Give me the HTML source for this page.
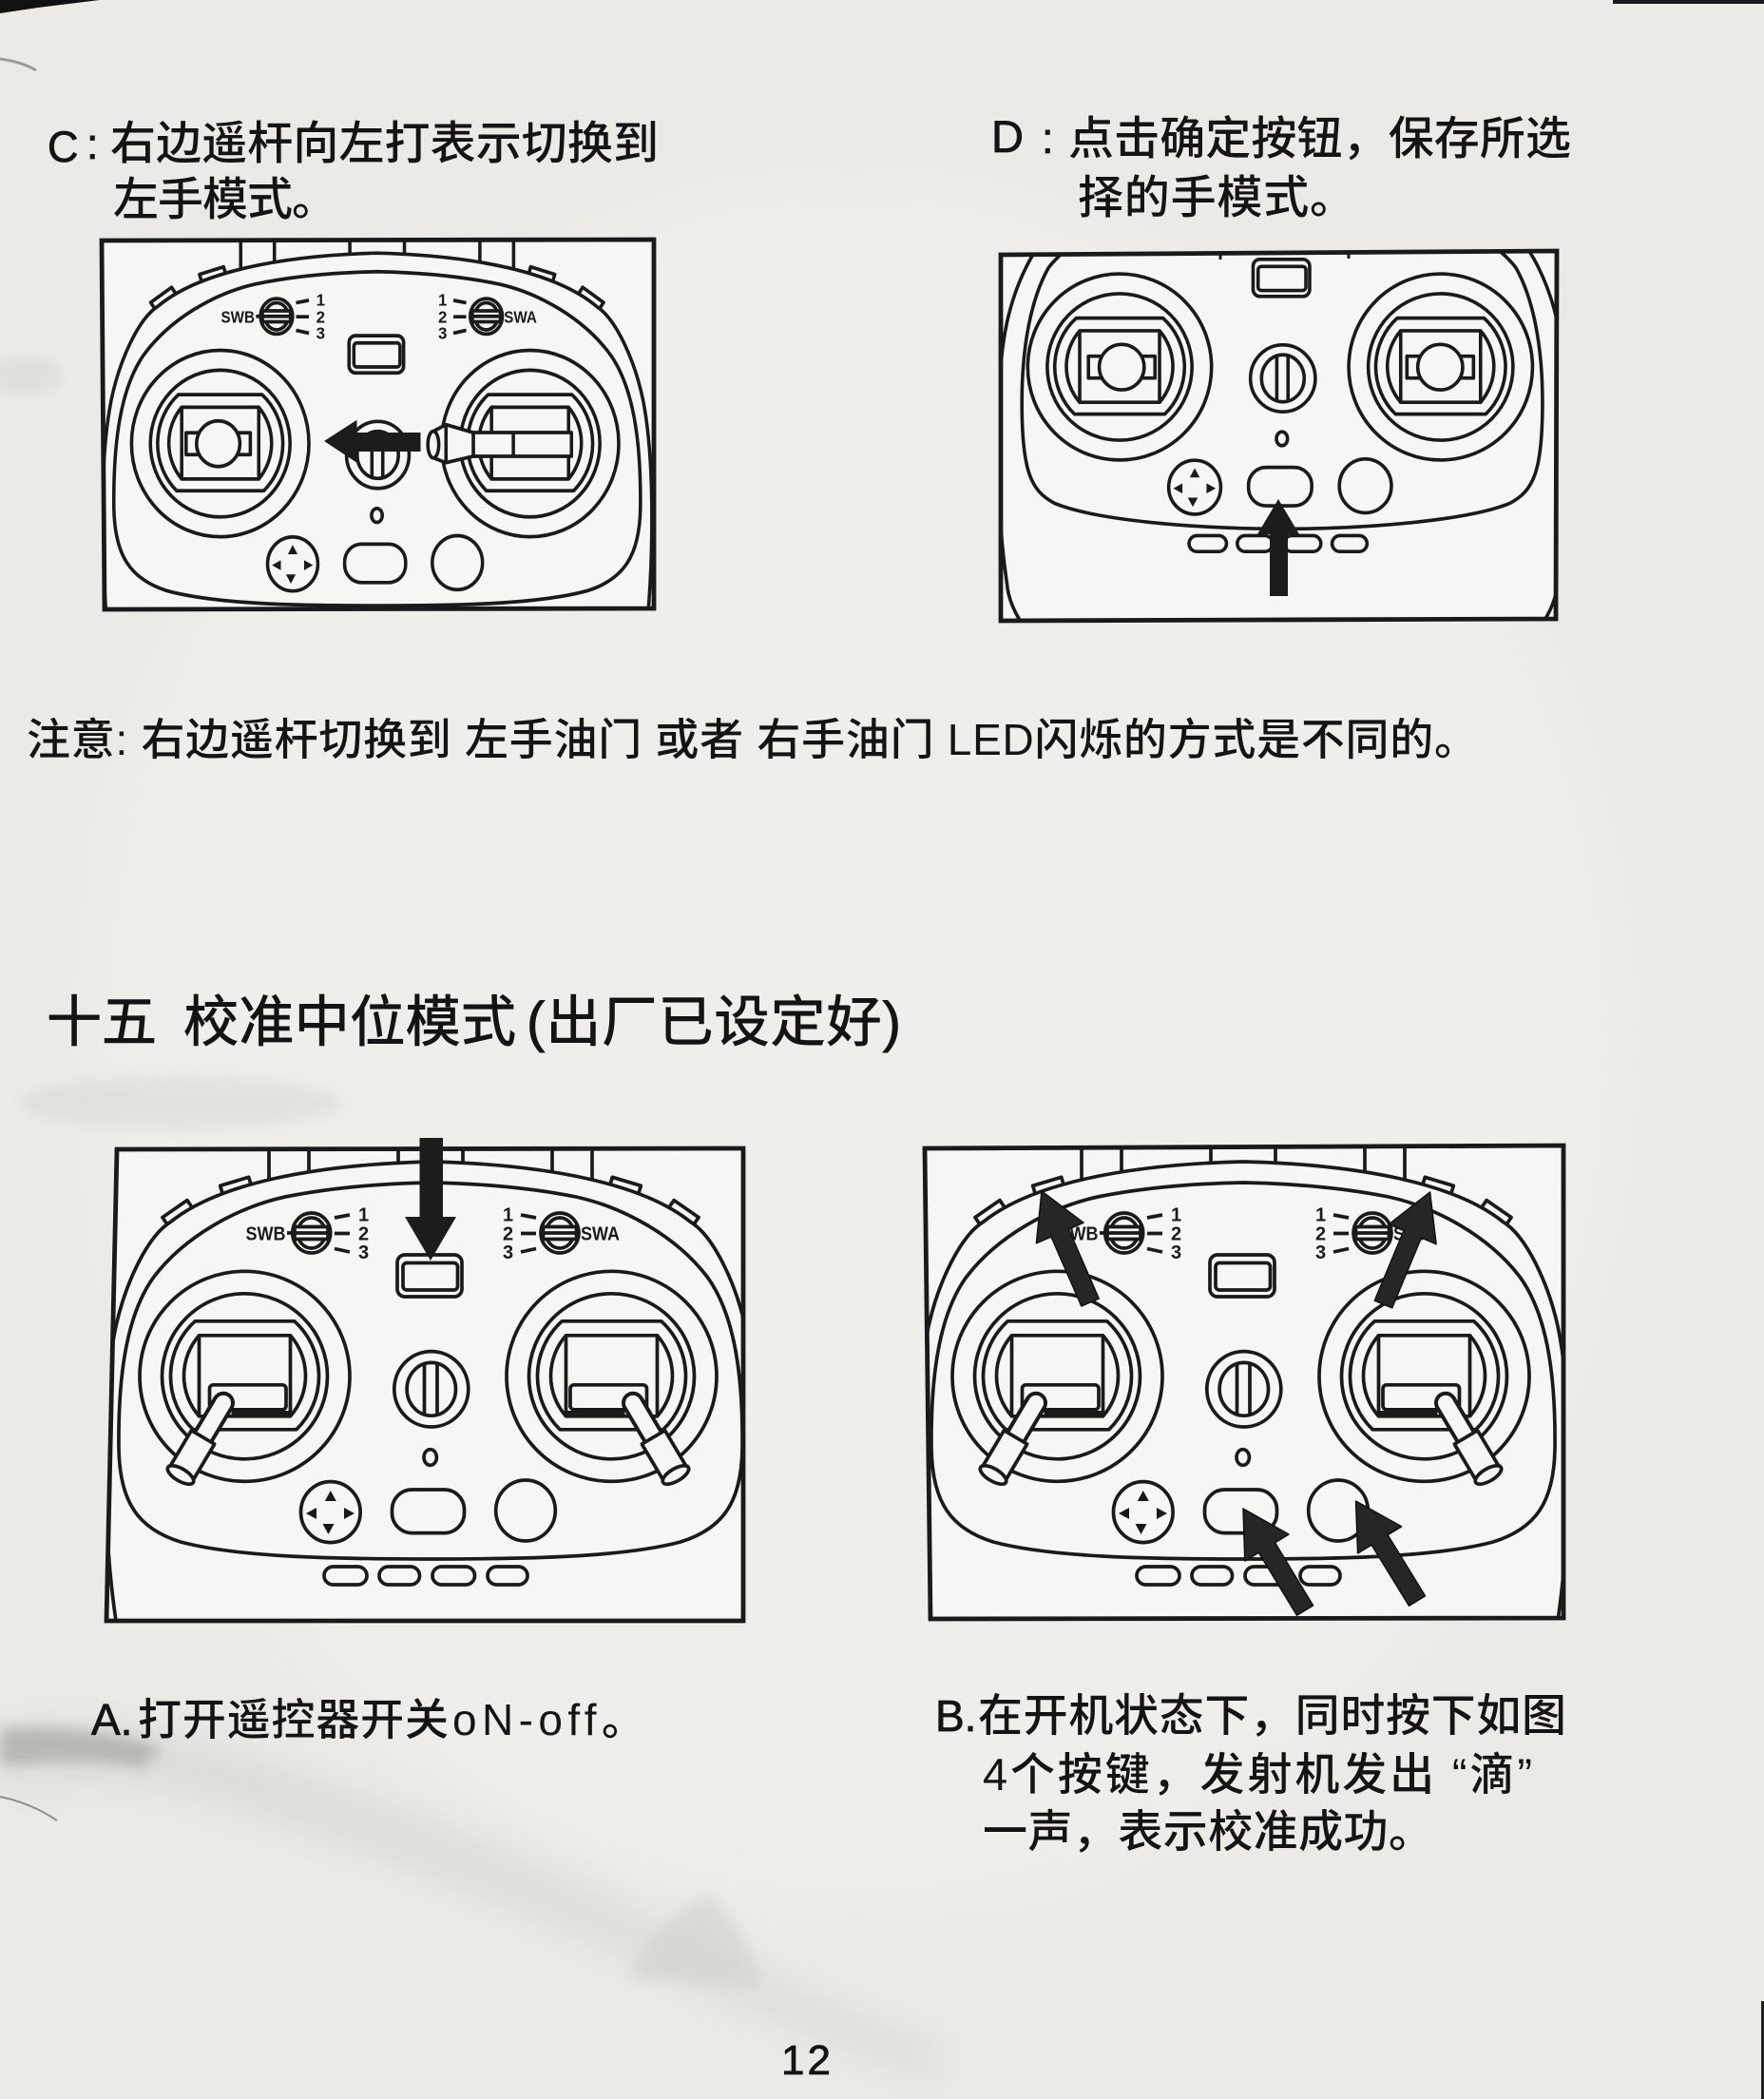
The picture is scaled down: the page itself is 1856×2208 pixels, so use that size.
<!DOCTYPE html>
<html>
<head>
<meta charset="utf-8">
<style>
  html,body{margin:0;padding:0;background:#ecebe7;}
  svg{display:block;}
</style>
</head>
<body>
<svg xmlns="http://www.w3.org/2000/svg" width="1856" height="2208" viewBox="0 0 1856 2208">
<defs>
  <filter id="bl" x="-50%" y="-50%" width="200%" height="200%"><feGaussianBlur stdDeviation="22"/></filter>
  <filter id="bl2" x="-50%" y="-50%" width="200%" height="200%"><feGaussianBlur stdDeviation="7"/></filter>

  <g id="shell">
    <path d="M50,578 C38,560 24,540 22,515 C8,420 6,280 22,205 C32,160 55,110 80,95 C130,55 230,35 353,32 C476,35 576,55 626,95 C651,110 674,160 684,205 C700,280 698,420 684,515 C682,540 668,560 656,578"/>
    <path d="M76,98 L70.9,90.6 L96.9,72.6 L102,80"/>
    <path d="M134,65 L131.7,57.3 L161.7,48.3 L164,56"/>
    <path d="M630,98 L635.1,90.6 L609.1,72.6 L604,80"/>
    <path d="M572,65 L574.3,57.3 L544.3,48.3 L542,56"/>
    <path d="M183,10 V51 M225,10 V43 M319,10 V34 M387,10 V34 M481,10 V43 M523,10 V51"/>
  </g>

  <path id="faceA" d="M353,54 C300,55 245,60 200,69 C150,80 95,110 62,153 C35,190 24,250 25,334 C26,390 45,418 90,432 C150,448 250,450 353,450 C456,450 556,448 616,432 C661,418 680,390 681,334 C682,250 671,190 644,153 C611,110 556,80 506,69 C461,60 406,55 353,54 Z"/>
  <path id="faceD" d="M353,54 C300,55 245,60 200,69 C150,80 95,110 72,140 C52,175 40,230 40,300 C40,380 50,405 80,420 C130,440 250,450 353,450 C456,450 576,440 626,420 C656,405 666,380 666,300 C666,230 654,175 634,140 C611,110 556,80 506,69 C461,60 406,55 353,54 Z"/>

  <g id="sw">
    <ellipse cx="227.7" cy="107" rx="20" ry="21" fill="#f6f6f4"/>
    <ellipse cx="227.7" cy="107" rx="14.5" ry="16"/>
    <rect x="210" y="100.5" width="35" height="13" fill="#f6f6f4"/>
    <line x1="210" y1="107" x2="245" y2="107"/>
    <line x1="202" y1="107" x2="208" y2="107"/>
    <path d="M252,91 L268,88 M252,107.5 L268,107.5 M252,123.5 L268,127"/>
    <ellipse cx="489" cy="107" rx="20" ry="21" fill="#f6f6f4"/>
    <ellipse cx="489" cy="107" rx="14.5" ry="16"/>
    <rect x="471.5" y="100.5" width="35" height="13" fill="#f6f6f4"/>
    <line x1="471.5" y1="107" x2="506.5" y2="107"/>
    <path d="M448,88 L464,91 M448,107.5 L464,107.5 M448,127 L464,123.5"/>
    <g stroke="none" fill="#1a1a1a" font-family="'Liberation Sans',sans-serif" font-weight="bold" font-size="20">
      <text x="158.5" y="114.5" textLength="42" lengthAdjust="spacingAndGlyphs">SWB</text>
      <text x="277" y="94.5">1</text>
      <text x="277" y="114.5">2</text>
      <text x="277" y="134">3</text>
      <text x="511" y="114.5" textLength="41" lengthAdjust="spacingAndGlyphs">SWA</text>
      <text x="429" y="94.5">1</text>
      <text x="429" y="114.5">2</text>
      <text x="429" y="134">3</text>
    </g>
  </g>

  <g id="panel">
    <rect x="318" y="130" width="68" height="44" rx="8" fill="#f6f6f4"/>
    <rect x="324" y="138.5" width="57.5" height="28.5" rx="4"/>
    <ellipse cx="353.8" cy="271.3" rx="39" ry="39.7" fill="#f6f6f4"/>
    <ellipse cx="353.8" cy="271.3" rx="25.7" ry="27.9"/>
    <path d="M346.5,245 V297.5 M360,245 V297.5"/>
    <ellipse cx="352.7" cy="343" rx="6.7" ry="8.3"/>
    <ellipse cx="247.8" cy="400.6" rx="31.3" ry="32" fill="#f6f6f4"/>
    <g stroke="none" fill="#1a1a1a">
      <polygon points="247.8,378 241.8,389 253.8,389"/>
      <polygon points="245.5,424 239.5,413 251.5,413"/>
      <polygon points="222,402 233,396 233,408"/>
      <polygon points="273,402 262,396 262,408"/>
    </g>
    <rect x="312.5" y="377" width="76" height="45.6" rx="21" fill="#f6f6f4"/>
    <ellipse cx="453" cy="399" rx="31.3" ry="32" fill="#f6f6f4"/>
    <rect x="241" y="458" width="45" height="19" rx="9.5"/>
    <rect x="299" y="458" width="42.5" height="19" rx="9.5"/>
    <rect x="355" y="458" width="44.5" height="19" rx="9.5"/>
    <rect x="413" y="458" width="42" height="19" rx="9.5"/>
  </g>

  <g id="gim">
    <circle r="110.5" fill="#f6f6f4"/>
    <circle r="87"/>
    <path d="M-52.2,-58 L52.2,-58 A78 78 0 0 1 54.3,56 L-54.3,56 A78 78 0 0 1 -52.2,-58 Z"/>
    <path d="M-48,-43 A64.4 64.4 0 0 0 -48,42 M48,-43 A64.4 64.4 0 0 1 48,42"/>
    <rect x="-48" y="-43" width="96" height="85"/>
  </g>

  <g id="tilt">
    <rect x="-37" y="9" width="80.5" height="26" rx="4" fill="#f6f6f4"/>
    <line x1="-14" y1="38.5" x2="47" y2="38.5" stroke-width="4.5"/>
    <line x1="-22.5" y1="28" x2="-43.96" y2="64.12" stroke-width="24" stroke-linecap="round"/>
    <line x1="-22.5" y1="28" x2="-43.96" y2="64.12" stroke="#f6f6f4" stroke-width="16" stroke-linecap="round"/>
    <line x1="-43.96" y1="64.12" x2="-67.47" y2="103.68" stroke-width="32"/>
    <line x1="-43.96" y1="64.12" x2="-67.47" y2="103.68" stroke="#f6f6f4" stroke-width="24.5"/>
    <line x1="-30.63" y1="72.04" x2="-57.29" y2="56.2"/>
    <ellipse cx="-67.47" cy="103.68" rx="15.5" ry="6.5" transform="rotate(30.7 -67.47 103.68)" fill="#f6f6f4"/>
  </g>

  <g id="topv">
    <rect x="-40" y="-13" width="80" height="26" fill="#f6f6f4"/>
    <circle r="27" fill="#f6f6f4"/>
  </g>

  <g id="push">
    <rect x="-70.7" y="-13" width="122.3" height="28.1" fill="#f6f6f4"/>
    <line x1="-20.8" y1="-13" x2="-20.8" y2="15.1"/>
    <path d="M-120.5,-14.5 L-104.7,-22.4 L-70.7,-13 L-70.7,15.1 L-104.7,22.7 L-120.5,17 Z" fill="#f6f6f4"/>
    <line x1="-104.7" y1="-22.4" x2="-104.7" y2="22.7"/>
    <ellipse cx="-120.5" cy="1.25" rx="6.8" ry="15.8" fill="#f6f6f4"/>
  </g>

  <clipPath id="cC"><polygon points="107,253 688,252 688,640 110,641"/></clipPath>
  <clipPath id="cD"><polygon points="1053,268 1638,264 1637,651 1053,653"/></clipPath>
  <clipPath id="cA"><polygon points="123,1209 782,1208 782,1705 112,1705"/></clipPath>
  <clipPath id="cB"><polygon points="973,1208 1645,1205 1645,1702 979,1703"/></clipPath>
</defs>

<rect x="0" y="0" width="1856" height="2208" fill="#ebeae6"/>
<ellipse cx="900" cy="1100" rx="800" ry="900" fill="#f0efeb" filter="url(#bl)" opacity="0.8"/>
<ellipse cx="25" cy="395" rx="40" ry="20" fill="#d2d0cc" opacity="0.45" filter="url(#bl2)"/>
<ellipse cx="190" cy="1160" rx="170" ry="28" fill="#d6d5d1" opacity="0.5" filter="url(#bl2)"/>
<path d="M0,1818 C80,1812 160,1820 240,1845 C400,1895 560,1960 720,2040 C820,2090 920,2130 1000,2160 L980,2185 C880,2150 760,2100 650,2050 C500,1985 340,1925 200,1885 C120,1865 60,1870 0,1880 Z" fill="#cac8c4" opacity="0.5" filter="url(#bl)"/>
<path d="M0,1818 C60,1814 120,1822 170,1838 L150,1860 C100,1850 50,1852 0,1858 Z" fill="#a9a7a3" opacity="0.7" filter="url(#bl2)"/>
<path d="M660,2080 C690,2030 720,2000 745,1995 C770,2010 790,2050 800,2090 Z" fill="#d0cecb" opacity="0.55" filter="url(#bl2)"/>
<path d="M0,1890 C25,1895 45,1905 60,1915" stroke="#555" stroke-width="2" fill="none" opacity="0.6"/>
<polygon points="0,0 105,0 40,8 0,14" fill="#111"/>
<rect x="1697" y="0" width="159" height="4" fill="#1a1a1a"/>
<rect x="1853" y="2105" width="3" height="103" fill="#222"/>
<path d="M0,62 C15,64 28,68 38,74" stroke="#666" stroke-width="3" fill="none" opacity="0.6"/>

<g fill="#141414" font-weight="500" font-family="'Liberation Sans','Noto Sans CJK SC',sans-serif">
  <g stroke="#141414" stroke-width="0.8">
    <text x="50" y="170" font-size="45" font-family="'Liberation Sans',sans-serif">C</text>
    <text x="91" y="167" font-size="45" font-family="'Liberation Sans',sans-serif">:</text>
    <text x="1043" y="160" font-size="47" font-family="'Liberation Sans',sans-serif">D</text>
    <text x="1096" y="161" font-size="45" font-family="'Liberation Sans',sans-serif">:</text>
    <text x="96" y="1825" font-size="46" font-family="'Liberation Sans',sans-serif">A.</text>
    <text x="984" y="1821" font-size="46" font-family="'Liberation Sans',sans-serif">B.</text>
    <text x="822" y="2182" font-size="44" textLength="52" font-family="'Liberation Sans',sans-serif">12</text>
  </g>
  <text x="116" y="167" font-size="48" textLength="577">右边遥杆向左打表示切换到</text>
  <text x="119" y="226" font-size="48" textLength="236">左手模式。</text>

  <text x="1124" y="162" font-size="48" textLength="529">点击确定按钮，保存所选</text>
  <text x="1134" y="224" font-size="48" textLength="292">择的手模式。</text>

  <text x="28" y="794" font-size="46" textLength="1527">注意: 右边遥杆切换到 左手油门 或者 右手油门 LED闪烁的方式是不同的。</text>

  <g font-weight="normal" stroke="#141414" stroke-width="0.9">
    <text x="49" y="1095" font-size="58" textLength="116">十五</text>
    <text x="193" y="1095" font-size="58" textLength="350">校准中位模式</text>
    <text x="554" y="1095" font-size="58" textLength="394">(出厂已设定好)</text>
  </g>

  <text x="145" y="1825" font-size="46" textLength="327">打开遥控器开关</text>
  <text x="476" y="1825" font-size="46" textLength="203">oN-off。</text>

  <text x="1029" y="1821" font-size="47" textLength="619">在开机状态下，同时按下如图</text>
  <text x="1034" y="1883" font-size="47" textLength="578">4个按键，发射机发出 “滴”</text>
  <text x="1034" y="1943" font-size="47" textLength="474">一声，表示校准成功。</text>
</g>

<g clip-path="url(#cC)">
  <polygon points="107,253 688,252 688,640 110,641" fill="#f6f6f4"/>
  <g transform="translate(98.7,237.8) scale(0.8445,0.8874)" stroke="#1a1a1a" stroke-width="4.2" fill="none" stroke-linejoin="round">
    <use href="#shell"/>
    <use href="#faceA"/>
    <use href="#sw"/>
    <use href="#panel"/>
    <use href="#gim" transform="translate(157.5,257.8)"/>
    <use href="#gim" transform="translate(543.5,257.8)"/>
    <use href="#topv" transform="translate(155,258)"/>
    <use href="#push" transform="translate(543.5,257.8)"/>
  </g>
</g>
<polygon points="107,253 688,252 688,640 110,641" fill="none" stroke="#1a1a1a" stroke-width="4.8"/>
<polygon points="341,464 375.5,441.7 375.5,455 442.5,455 442.5,475 375.5,475 375.5,486.7" fill="#1c1c1c"/>

<g clip-path="url(#cD)">
  <polygon points="1053,268 1638,264 1637,651 1053,653" fill="#f6f6f4"/>
  <g transform="translate(1040.2,157.6) scale(0.875,0.886)" stroke="#1a1a1a" stroke-width="4.1" fill="none" stroke-linejoin="round">
    <use href="#shell"/>
    <use href="#faceD"/>
    <use href="#panel"/>
    <use href="#gim" transform="translate(157.5,257.8)"/>
    <use href="#gim" transform="translate(543.5,257.8)"/>
    <use href="#topv" transform="translate(160,258)"/>
    <use href="#topv" transform="translate(543,258)"/>
  </g>
  <path d="M1284,266 V273 M1419,266 V272" stroke="#1a1a1a" stroke-width="3"/>
</g>
<polygon points="1053,268 1638,264 1637,651 1053,653" fill="none" stroke="#1a1a1a" stroke-width="4.8"/>
<polygon points="1345,525 1367,562 1355,562 1355,627 1336,627 1336,562 1323,562" fill="#1c1c1c"/>

<g clip-path="url(#cA)">
  <polygon points="123,1209 782,1208 782,1705 112,1705" fill="#f6f6f4"/>
  <g transform="translate(100,1190)" stroke="#1a1a1a" stroke-width="3.7" fill="none" stroke-linejoin="round">
    <use href="#shell"/>
    <use href="#faceA"/>
    <use href="#sw"/>
    <use href="#panel"/>
    <use href="#gim" transform="translate(157.5,257.8)"/>
    <use href="#gim" transform="translate(543.5,257.8)"/>
    <use href="#tilt" transform="translate(157.5,257.8)"/>
    <use href="#tilt" transform="translate(543.5,257.8) scale(-1,1)"/>
  </g>
</g>
<polygon points="123,1209 782,1208 782,1705 112,1705" fill="none" stroke="#1a1a1a" stroke-width="4.8"/>
<polygon points="441.5,1197 466,1197 466,1280 480,1280 453,1326 426,1280 441.5,1280" fill="#1c1c1c"/>

<g clip-path="url(#cB)">
  <polygon points="973,1208 1645,1205 1645,1702 979,1703" fill="#f6f6f4"/>
  <g transform="translate(955,1190)" stroke="#1a1a1a" stroke-width="3.7" fill="none" stroke-linejoin="round">
    <use href="#shell"/>
    <use href="#faceA"/>
    <use href="#sw"/>
    <use href="#panel"/>
    <use href="#gim" transform="translate(157.5,257.8)"/>
    <use href="#gim" transform="translate(543.5,257.8)"/>
    <use href="#tilt" transform="translate(157.5,257.8)"/>
    <use href="#tilt" transform="translate(543.5,257.8) scale(-1,1)"/>
  </g>
  <g fill="#262626" stroke="#111" stroke-width="1.5" stroke-linejoin="round">
    <polygon points="1156.2,1366.0 1124.4,1293.0 1140.0,1286.2 1096,1253 1090.4,1307.8 1106.0,1301.0 1137.8,1374.0"/>
    <polygon points="1464.7,1375.8 1495.4,1302.1 1511.1,1308.7 1504.6,1254 1461.3,1287.9 1477.0,1294.5 1446.3,1368.2"/>
    <polygon points="1381.5,1688.8 1341.5,1622.8 1356.0,1614.0 1308,1587 1309.8,1642.0 1324.4,1633.2 1364.5,1699.2"/>
    <polygon points="1499.5,1678.8 1460.1,1614.7 1474.6,1605.8 1426.5,1579 1428.6,1634.0 1443.1,1625.1 1482.5,1689.2"/>
  </g>
</g>
<polygon points="973,1208 1645,1205 1645,1702 979,1703" fill="none" stroke="#1a1a1a" stroke-width="4.8"/>

</svg>
</body>
</html>
